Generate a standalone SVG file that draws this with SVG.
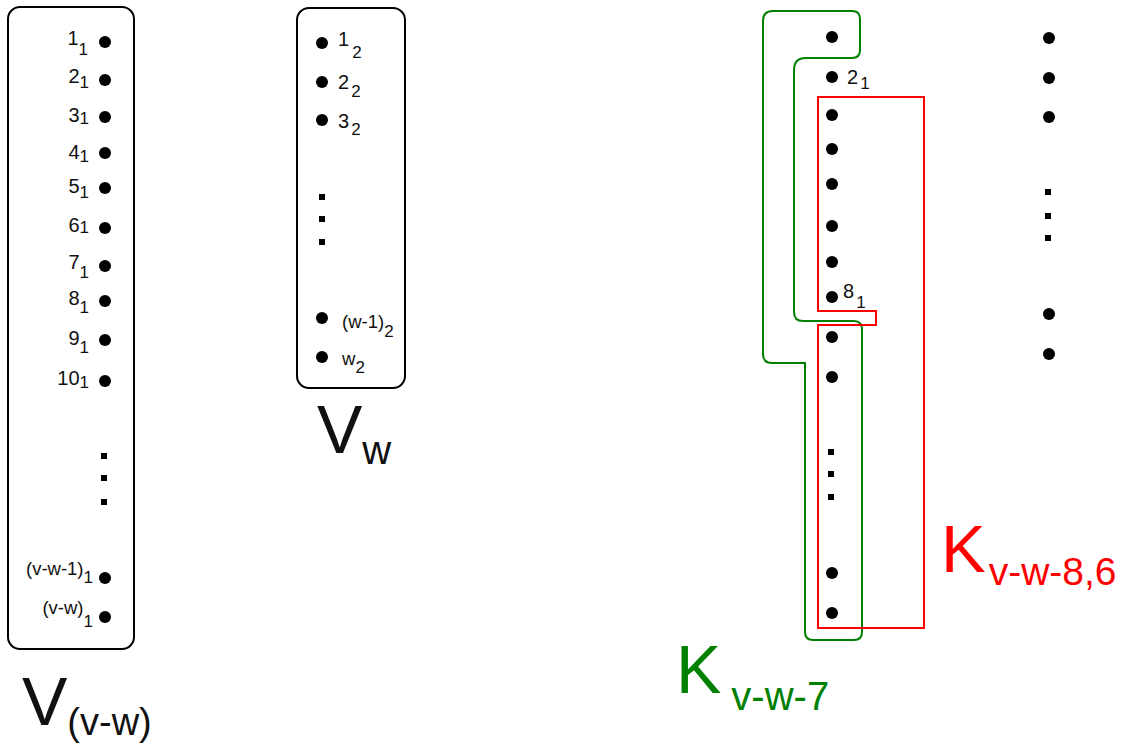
<svg xmlns="http://www.w3.org/2000/svg" width="1126" height="748" viewBox="0 0 1126 748">
<style>
text{font-family:"Liberation Sans",Arial,sans-serif;fill:#111}
.lb{font-size:20px}
.sm{font-size:18.5px}
.sb{font-size:17px}
.box{fill:none;stroke:#000;stroke-width:2}
.dot{fill:#000}
.sq{fill:#000}
</style>
<defs>
<circle id="d" r="6" class="dot"/>
<rect id="s" x="-3" y="-3" width="6" height="6" class="sq"/>
</defs>
<rect width="1126" height="748" fill="#fff"/>

<g id="set-V1">
<rect class="box" x="8" y="7" width="126" height="642" rx="12"/>
<use href="#d" x="105" y="42"/>
<use href="#d" x="105" y="80"/>
<use href="#d" x="105" y="117"/>
<use href="#d" x="105" y="153"/>
<use href="#d" x="105" y="188"/>
<use href="#d" x="105" y="228"/>
<use href="#d" x="105" y="266"/>
<use href="#d" x="105" y="301"/>
<use href="#d" x="105" y="340"/>
<use href="#d" x="105" y="381"/>
<use href="#s" x="104" y="456"/>
<use href="#s" x="104" y="478"/>
<use href="#s" x="104" y="502"/>
<use href="#d" x="105" y="578"/>
<use href="#d" x="105" y="617"/>
<text class="lb" x="88" y="45" text-anchor="end">1<tspan class="sb" dy="10">1</tspan></text>
<text class="lb" x="89" y="83" text-anchor="end">2<tspan class="sb" dy="5">1</tspan></text>
<text class="lb" x="89" y="122" text-anchor="end">3<tspan class="sb" dy="2">1</tspan></text>
<text class="lb" x="89" y="159" text-anchor="end">4<tspan class="sb" dy="3">1</tspan></text>
<text class="lb" x="89" y="193" text-anchor="end">5<tspan class="sb" dy="5">1</tspan></text>
<text class="lb" x="89" y="232" text-anchor="end">6<tspan class="sb" dy="1">1</tspan></text>
<text class="lb" x="89" y="269" text-anchor="end">7<tspan class="sb" dy="9">1</tspan></text>
<text class="lb" x="89" y="305" text-anchor="end">8<tspan class="sb" dy="8">1</tspan></text>
<text class="lb" x="89" y="345" text-anchor="end">9<tspan class="sb" dy="8">1</tspan></text>
<text class="lb" x="89" y="385" text-anchor="end">10<tspan class="sb" dy="3">1</tspan></text>
<text class="sm" x="93" y="575" text-anchor="end">(v-w-1)<tspan class="sb" dy="8">1</tspan></text>
<text class="sm" x="93" y="614" text-anchor="end">(v-w)<tspan class="sb" dy="13">1</tspan></text>
</g>

<g id="label-V1">
<text x="22" y="725" font-size="68">V<tspan font-size="38" dy="10">(v-w)</tspan></text>
</g>

<g id="set-V2">
<rect class="box" x="297" y="8" width="108" height="380" rx="12"/>
<use href="#d" x="322" y="43"/>
<use href="#d" x="322" y="82"/>
<use href="#d" x="322" y="120"/>
<use href="#s" x="322" y="197"/>
<use href="#s" x="322" y="219"/>
<use href="#s" x="322" y="242"/>
<use href="#d" x="322" y="318"/>
<use href="#d" x="322" y="357"/>
<text class="lb" x="338" y="46">1<tspan class="sb" dx="3" dy="12">2</tspan></text>
<text class="lb" x="338" y="89">2<tspan class="sb" dx="2" dy="8">2</tspan></text>
<text class="lb" x="338" y="128">3<tspan class="sb" dx="2" dy="7">2</tspan></text>
<text class="sm" x="342" y="328">(w-1)<tspan class="sb" dy="9">2</tspan></text>
<text class="sm" x="342" y="365">w<tspan class="sb" dy="8">2</tspan></text>
</g>

<g id="label-V2">
<text x="317" y="453" font-size="68">V<tspan font-size="40" dy="11">w</tspan></text>
</g>

<g id="set-K7" fill="none" stroke="#008000" stroke-width="2">
<path d="M773,11 L852,11 Q860,11 860,19 L860,50 Q860,58 852,58 L806,58 Q794,58 794,70 L794,312 Q794,321 803,321 L854,321 Q862,321 862,330 L862,632 Q862,640 854,640 L813,640 Q805,640 805,632 L805,363 L772,363 Q763,363 763,354 L763,21 Q763,11 773,11 Z"/>
</g>

<g id="set-K86" fill="none" stroke="#ff0000" stroke-width="2">
<path d="M818,97 L924,97 L924,628 L818,628 L818,325 L876,325 L876,311 L818,311 Z"/>
</g>

<g id="column-3">
<use href="#d" x="832" y="37"/>
<use href="#d" x="832" y="77"/>
<use href="#d" x="832" y="115"/>
<use href="#d" x="832" y="149"/>
<use href="#d" x="832" y="184"/>
<use href="#d" x="832" y="226"/>
<use href="#d" x="832" y="262"/>
<use href="#d" x="832" y="297"/>
<use href="#d" x="832" y="337"/>
<use href="#d" x="832" y="377"/>
<use href="#s" x="831" y="452"/>
<use href="#s" x="831" y="474"/>
<use href="#s" x="831" y="497"/>
<use href="#d" x="832" y="573"/>
<use href="#d" x="832" y="613"/>
<text class="lb" x="847" y="84">2<tspan class="sb" dx="2" dy="5">1</tspan></text>
<text class="lb" x="843" y="298">8<tspan class="sb" dx="2" dy="10">1</tspan></text>
</g>

<g id="column-4">
<use href="#d" x="1049" y="38"/>
<use href="#d" x="1049" y="78"/>
<use href="#d" x="1049" y="117"/>
<use href="#s" x="1048" y="192"/>
<use href="#s" x="1048" y="216"/>
<use href="#s" x="1048" y="238"/>
<use href="#d" x="1049" y="314"/>
<use href="#d" x="1049" y="354"/>
</g>

<g id="label-K86">
<text x="941" y="572" font-size="67" style="fill:#ff0000">K<tspan font-size="39" dx="3" dy="13">v-w-8,6</tspan></text>
</g>

<g id="label-K7">
<text x="676" y="693" font-size="68" style="fill:#008000">K<tspan font-size="40" dx="10" dy="17">v-w-7</tspan></text>
</g>

<g id="connectors"/>
</svg>
